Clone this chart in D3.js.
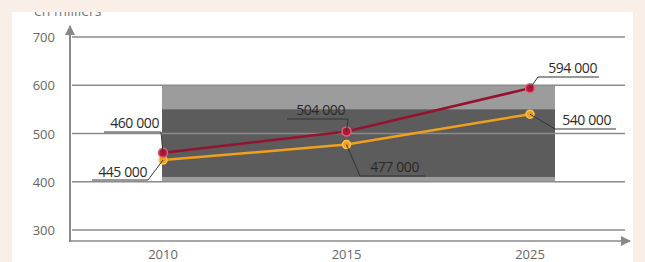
<!DOCTYPE html>
<html lang="fr">
<head>
<meta charset="utf-8">
<title>En milliers</title>
<script src="https://d3js.org/d3.v7.min.js"></script>
<style>
  body { margin: 0; background: #f9efe6; }
  text { font-family: "Open Sans", sans-serif; }
</style>
</head>
<body>
<div id="plot"></div>
<script>
// data
var years = ["2010", "2015", "2025"];
var redValues = [460, 504, 594];
var orangeValues = [445, 477, 540];
var redLabels = ["460 000", "504 000", "594 000"];
var orangeLabels = ["445 000", "477 000", "540 000"];
var yTicks = [300, 400, 500, 600, 700];
var bandLight = [400, 600];
var bandDark = [410, 550];

var W = 645, H = 262;

var svg = d3.select("#plot").append("svg")
    .attr("width", W)
    .attr("height", H);

// white panel
svg.append("rect")
    .attr("x", 12).attr("y", 12)
    .attr("width", 621).attr("height", H - 12)
    .attr("fill", "#ffffff");

// unit label, clipped at panel top
svg.append("clipPath").attr("id", "panelClip")
    .append("rect").attr("x", 12).attr("y", 12).attr("width", 621).attr("height", H);
svg.append("text")
    .attr("clip-path", "url(#panelClip)")
    .attr("x", 34).attr("y", 16)
    .attr("fill", "#777")
    .style("font-size", "14px")
    .text("en milliers");

var x = d3.scalePoint().domain(years).range([163, 530]);
var y = d3.scaleLinear().domain([300, 700]).range([230, 37]);

// grey bands
svg.append("rect")
    .attr("x", x("2010") - 1)
    .attr("y", y(bandLight[1]))
    .attr("width", x("2025") + 26 - x("2010"))
    .attr("height", y(bandLight[0]) - y(bandLight[1]))
    .attr("fill", "#9c9c9c");
svg.append("rect")
    .attr("x", x("2010") - 1)
    .attr("y", y(bandDark[1]))
    .attr("width", x("2025") + 26 - x("2010"))
    .attr("height", y(bandDark[0]) - y(bandDark[1]))
    .attr("fill", "#5c5c5c");

// gridlines
svg.append("g").selectAll("line")
    .data(yTicks).join("line")
    .attr("x1", 72).attr("x2", 625)
    .attr("y1", d => y(d)).attr("y2", d => y(d))
    .attr("stroke", "#8a8a8a")
    .attr("stroke-width", 1.5);

// y tick labels
svg.append("g").selectAll("text")
    .data(yTicks).join("text")
    .attr("x", 55)
    .attr("y", d => y(d) + 5)
    .attr("text-anchor", "end")
    .attr("fill", "#666")
    .style("font-size", "13px")
    .text(d => d);

// axes with arrows
svg.append("defs").append("marker")
    .attr("id", "arrow")
    .attr("viewBox", "0 0 10 10")
    .attr("refX", 9).attr("refY", 5)
    .attr("markerWidth", 14).attr("markerHeight", 10)
    .attr("markerUnits", "userSpaceOnUse")
    .attr("orient", "auto")
    .append("path").attr("d", "M0,0 L10,5 L0,10 z").attr("fill", "#888");

svg.append("line")
    .attr("x1", 70).attr("x2", 70)
    .attr("y1", 242).attr("y2", 26)
    .attr("stroke", "#8a8a8a").attr("stroke-width", 2)
    .attr("marker-end", "url(#arrow)");
svg.append("line")
    .attr("x1", 69).attr("x2", 630)
    .attr("y1", 241).attr("y2", 241)
    .attr("stroke", "#8a8a8a").attr("stroke-width", 1.5)
    .attr("marker-end", "url(#arrow)");

// x labels
svg.append("g").selectAll("text")
    .data(years).join("text")
    .attr("x", d => x(d))
    .attr("y", 259)
    .attr("text-anchor", "middle")
    .attr("fill", "#666")
    .style("font-size", "13px")
    .text(d => d);

// lines
var line = d3.line()
    .x((d, i) => x(years[i]))
    .y(d => y(d));

svg.append("path")
    .datum(orangeValues)
    .attr("d", line)
    .attr("fill", "none")
    .attr("stroke", "#f0a01c")
    .attr("stroke-width", 2.5);
svg.append("path")
    .datum(redValues)
    .attr("d", line)
    .attr("fill", "none")
    .attr("stroke", "#951330")
    .attr("stroke-width", 2.5);

svg.append("g").selectAll("circle")
    .data(orangeValues).join("circle")
    .attr("cx", (d, i) => x(years[i]))
    .attr("cy", d => y(d))
    .attr("r", 4)
    .attr("fill", "#f0a01c")
    .attr("stroke", "#f7c45a")
    .attr("stroke-width", 1.5);
svg.append("g").selectAll("circle")
    .data(redValues).join("circle")
    .attr("cx", (d, i) => x(years[i]))
    .attr("cy", d => y(d))
    .attr("r", 4.5)
    .attr("fill", "#b01838")
    .attr("stroke", "#e0607a")
    .attr("stroke-width", 1.5);

// label placement: text end x/y, underline extent, leader start
var redLayout = [
    { tx: 159, ty: 128, u1: 104, u2: 161, uy: 132, lx: 161 },
    { tx: 345, ty: 115, u1: 287, u2: 348, uy: 119, lx: 348 },
    { tx: 597, ty: 73, u1: 538, u2: 599, uy: 77, lx: 538 }
];
var orangeLayout = [
    { tx: 147, ty: 177, u1: 92, u2: 148, uy: 180, lx: 148 },
    { tx: 419, ty: 172, u1: 360, u2: 425, uy: 176, lx: 360 },
    { tx: 611, ty: 125, u1: 555, u2: 616, uy: 129, lx: 555 }
];

function drawLabels(values, labels, layout) {
    var g = svg.append("g");
    values.forEach(function (v, i) {
        var L = layout[i];
        g.append("line")
            .attr("x1", L.lx).attr("y1", L.uy)
            .attr("x2", x(years[i])).attr("y2", y(v))
            .attr("stroke", "#333").attr("stroke-width", 1);
        g.append("line")
            .attr("x1", L.u1).attr("x2", L.u2)
            .attr("y1", L.uy).attr("y2", L.uy)
            .attr("stroke", "#333").attr("stroke-width", 1);
        g.append("text")
            .attr("x", L.tx).attr("y", L.ty)
            .attr("text-anchor", "end")
            .attr("fill", "#2a2a2a")
            .style("font-size", "14px")
            .style("letter-spacing", "-0.4px")
            .text(labels[i]);
    });
}
drawLabels(redValues, redLabels, redLayout);
drawLabels(orangeValues, orangeLabels, orangeLayout);
</script>
</body>
</html>
